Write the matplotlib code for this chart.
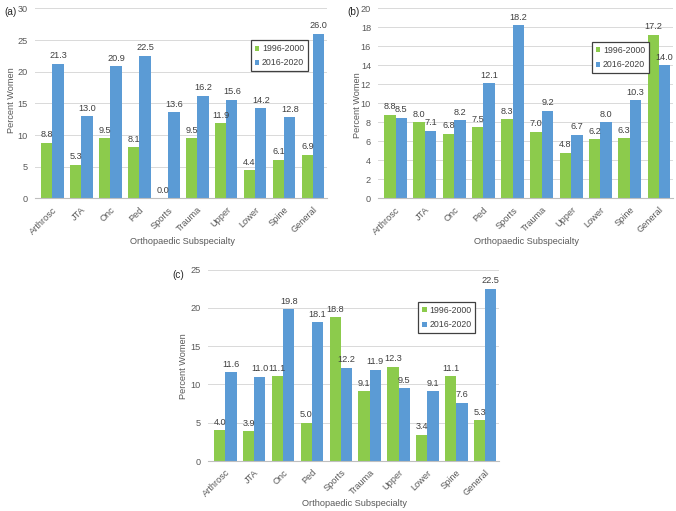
import matplotlib
matplotlib.use("Agg")
import matplotlib.pyplot as plt
import numpy as np

# ── data ──────────────────────────────────────────────────────────────────
categories = ["Arthrosc", "JTA", "Onc", "Ped", "Sports", "Trauma",
              "Upper", "Lower", "Spine", "General"]
series_names = ["1996-2000", "2016-2020"]

a_early = [8.8, 5.3, 9.5, 8.1, 0.0, 9.5, 11.9, 4.4, 6.1, 6.9]
a_late = [21.3, 13.0, 20.9, 22.5, 13.6, 16.2, 15.6, 14.2, 12.8, 26.0]

b_early = [8.8, 8.0, 6.8, 7.5, 8.3, 7.0, 4.8, 6.2, 6.3, 17.2]
b_late = [8.5, 7.1, 8.2, 12.1, 18.2, 9.2, 6.7, 8.0, 10.3, 14.0]

c_early = [4.0, 3.9, 11.1, 5.0, 18.8, 9.1, 12.3, 3.4, 11.1, 5.3]
c_late = [11.6, 11.0, 19.8, 18.1, 12.2, 11.9, 9.5, 9.1, 7.6, 22.5]

GREEN = "#8CCB4C"
BLUE = "#5B9BD5"
TXT = "#595959"
FS = 6.6
LFS = 6.3

plt.rcParams["font.family"] = ["Liberation Sans", "DejaVu Sans"]

W, H = 676, 511
fig = plt.figure(figsize=(W / 100, H / 100), dpi=100)
fig.patch.set_facecolor("white")


def px_axes(left, top, right, bottom):
    return fig.add_axes([left / W, 1 - bottom / H, (right - left) / W, (bottom - top) / H])


def panel(ax, early, late, ymax, ystep, leg_anchor):
    x = np.arange(len(categories))
    bw = 0.39
    ax.bar(x - bw / 2, early, bw, color=GREEN, label=series_names[0], zorder=2)
    ax.bar(x + bw / 2, late, bw, color=BLUE, label=series_names[1], zorder=2)
    for xi, v in zip(x, early):
        ax.annotate(f"{v:.1f}", (xi - bw / 2, v), xytext=(0, 2.5), textcoords="offset points",
                    ha="center", va="bottom", fontsize=FS, color="#404040")
    for xi, v in zip(x, late):
        ax.annotate(f"{v:.1f}", (xi + bw / 2, v), xytext=(0, 2.5), textcoords="offset points",
                    ha="center", va="bottom", fontsize=FS, color="#404040")
    ax.set_xlim(-0.6, len(categories) - 0.52)
    ax.set_ylim(0, ymax)
    ax.set_yticks(np.arange(0, ymax + 0.1, ystep))
    ax.set_xticks(x)
    ax.set_xticklabels(categories, rotation=45, ha="right", rotation_mode="anchor")
    ax.tick_params(axis="both", length=0, labelsize=FS, colors=TXT, pad=5)
    ax.grid(True, axis="y", color="#D9D9D9", linewidth=0.7, zorder=0)
    ax.set_axisbelow(True)
    for s in ["top", "right", "left"]:
        ax.spines[s].set_visible(False)
    ax.spines["bottom"].set_color("#BFBFBF")
    ax.spines["bottom"].set_linewidth(0.8)
    leg = ax.legend(loc="upper left", bbox_to_anchor=leg_anchor, fontsize=LFS, frameon=True,
                    fancybox=False, handlelength=0.5, handleheight=0.5, handletextpad=0.3,
                    borderpad=0.45, labelspacing=0.6, borderaxespad=0, labelcolor="#404040")
    leg.get_frame().set_edgecolor("#404040")
    leg.get_frame().set_linewidth(0.9)
    leg.get_frame().set_alpha(1)


axa = px_axes(35, 8.5, 327, 198.3)
panel(axa, a_early, a_late, 30, 5, (0.74, 0.833))
axb = px_axes(378, 8.3, 673, 198.3)
panel(axb, b_early, b_late, 20, 2, (0.725, 0.823))
axc = px_axes(208, 269.5, 499, 461)
panel(axc, c_early, c_late, 25, 5, (0.723, 0.83))

# panel letters, axis titles
fig.text(4 / W, 1 - 12 / H, "(a)", fontsize=7.2, color="#262626", va="center")
fig.text(347 / W, 1 - 12 / H, "(b)", fontsize=7.2, color="#262626", va="center")
fig.text(172 / W, 1 - 275 / H, "(c)", fontsize=7.2, color="#262626", va="center")

for cx, cy in [(182, 242), (527, 242), (354, 504)]:
    fig.text(cx / W, 1 - cy / H, "Orthopaedic Subspecialty", fontsize=FS, color=TXT,
             ha="center", va="center")
for cx, cy in [(12, 100), (357, 105), (184, 366)]:
    fig.text(cx / W, 1 - cy / H, "Percent Women", fontsize=FS, color=TXT,
             ha="center", va="center", rotation=90)

fig.savefig("out.png", dpi=100)
